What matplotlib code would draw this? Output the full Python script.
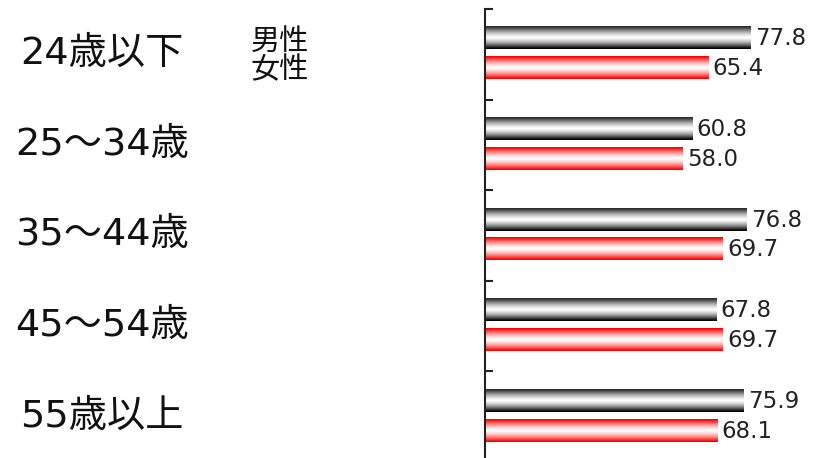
import numpy as np
import matplotlib
matplotlib.use("Agg")
import matplotlib.pyplot as plt
from matplotlib.colors import to_rgb

plt.rcParams['font.family'] = ['DejaVu Sans', 'Noto Sans CJK JP']

categories = ["24歳以下", "25〜34歳", "35〜44歳", "45〜54歳", "55歳以上"]
series_names = ["男性", "女性"]
male = [77.8, 60.8, 76.8, 67.8, 75.9]
female = [65.4, 58.0, 69.7, 69.7, 68.1]

W, H = 815, 458
fig = plt.figure(figsize=(W / 100, H / 100), dpi=100)

# axes spanning x 485..815 px, y 9..458 px
ax = fig.add_axes([485 / W, 0, (W - 485) / W, (H - 9) / H])
unit_px = 90.6

def grad_img(edge_top, edge_bot, n=64, p=1.4):
    t = (np.arange(n) + 0.5) / n
    d = np.abs(t - 0.5) * 2
    w = np.clip(d ** p * 1.1, 0, 1)
    top = np.array(to_rgb(edge_top))
    bot = np.array(to_rgb(edge_bot))
    white = np.ones(3)
    rows = []
    for ti, wi in zip(t, w):
        e = top if ti < 0.5 else bot
        rows.append(white * (1 - wi) + e * wi)
    return np.array(rows)[:, None, :]

img_m = grad_img("#2a2a2a", "#000000")
img_f = grad_img("#ff0000", "#ff0000")

bar_h = 0.25
for i, (m, f) in enumerate(zip(male, female)):
    for val, off, img in ((m, 0.32, img_m), (f, 0.65, img_f)):
        y0 = i + off - bar_h / 2
        y1 = i + off + bar_h / 2
        ax.imshow(img, extent=(0, val, y1, y0), aspect='auto',
                  interpolation='bilinear', zorder=2)
        ax.text(val + 1.3, i + off + 0.01, f"{val:.1f}", va='center', ha='left',
                fontsize=16.5, color='#222222')

ax.set_ylim((H - 9) / unit_px, 0)
ax.set_xlim(0, (W - 485) / 3.41)

for s in ['top', 'right', 'bottom']:
    ax.spines[s].set_visible(False)
ax.spines['left'].set_linewidth(1.5)
ax.spines['left'].set_color('#222222')
ax.set_xticks([])
ax.set_yticks(np.arange(len(categories)))
ax.tick_params(axis='y', direction='in', length=5.5, width=1.5, color='#222222',
               labelleft=False)

# category labels
for i, c in enumerate(categories):
    yp = H - (9 + (i + 0.5) * unit_px)
    fig.text(102 / W, yp / H, c, ha='center', va='center', fontsize=27.5, color='#111111')

# legend text
fig.text(280 / W, (H - 42) / H, series_names[0], ha='center', va='center',
         fontsize=21, color='#111111', family='Noto Sans CJK JP')
fig.text(280 / W, (H - 70) / H, series_names[1], ha='center', va='center',
         fontsize=21, color='#111111', family='Noto Sans CJK JP')

fig.savefig("out.png", dpi=100)
